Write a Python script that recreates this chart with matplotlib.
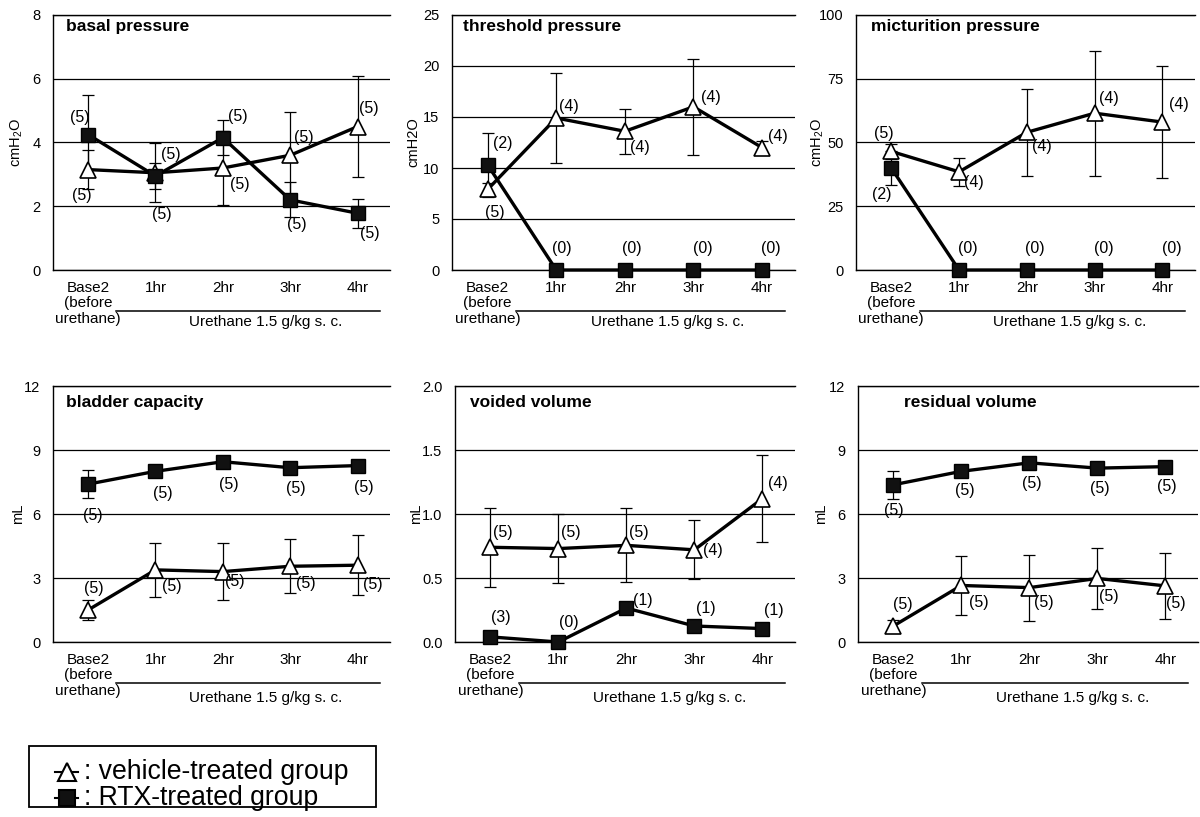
import matplotlib
matplotlib.use("Agg")
import matplotlib.pyplot as plt
from matplotlib.lines import Line2D
from matplotlib.patches import Rectangle

plt.rcParams['font.family'] = ['Liberation Sans', 'DejaVu Sans']
plt.rcParams['mathtext.fontset'] = 'custom'
plt.rcParams['mathtext.rm'] = 'Liberation Sans'
plt.rcParams['mathtext.it'] = 'Liberation Sans:italic'
plt.rcParams['mathtext.bf'] = 'Liberation Sans:bold'

# ---------------- data ----------------
categories = ["Base2\n(before\nurethane)", "1hr", "2hr", "3hr", "4hr"]
treatment_label = "Urethane 1.5 g/kg s. c."
legend_labels = [": vehicle-treated group", ": RTX-treated group"]

# basal pressure (cmH2O)
basal_veh = [3.15, 3.05, 3.2, 3.6, 4.5]
basal_veh_err = [0.6, 0.92, 1.15, 1.35, 1.58]
basal_rtx = [4.25, 2.95, 4.15, 2.2, 1.78]
basal_rtx_err = [1.25, 0.4, 0.55, 0.55, 0.46]
basal_veh_n = ["(5)", "(5)", "(5)", "(5)", "(5)"]
basal_rtx_n = ["(5)", "(5)", "(5)", "(5)", "(5)"]

# threshold pressure (cmH2O)
thresh_veh = [7.9, 14.9, 13.6, 16.0, 12.0]
thresh_veh_err = [0.6, 4.4, 2.2, 4.7, 0.65]
thresh_rtx = [10.3, 0, 0, 0, 0]
thresh_rtx_err = [3.1, 0, 0, 0, 0]
thresh_veh_n = ["(5)", "(4)", "(4)", "(4)", "(4)"]
thresh_rtx_n = ["(2)", "(0)", "(0)", "(0)", "(0)"]

# micturition pressure (cmH2O)
mict_veh = [46.5, 38.5, 54.0, 61.5, 58.0]
mict_veh_err = [3.0, 5.5, 17.0, 24.5, 22.0]
mict_rtx = [40.0, 0, 0, 0, 0]
mict_rtx_err = [6.5, 0, 0, 0, 0]
mict_veh_n = ["(5)", "(4)", "(4)", "(4)", "(4)"]
mict_rtx_n = ["(2)", "(0)", "(0)", "(0)", "(0)"]

# bladder capacity (mL)
cap_veh = [1.5, 3.38, 3.3, 3.55, 3.6]
cap_veh_err = [0.45, 1.25, 1.33, 1.27, 1.4]
cap_rtx = [7.4, 8.0, 8.45, 8.17, 8.27]
cap_rtx_err = [0.65, 0.2, 0.2, 0.2, 0.2]
cap_veh_n = ["(5)", "(5)", "(5)", "(5)", "(5)"]
cap_rtx_n = ["(5)", "(5)", "(5)", "(5)", "(5)"]

# voided volume (mL)
void_veh = [0.74, 0.73, 0.755, 0.72, 1.12]
void_veh_err = [0.31, 0.27, 0.29, 0.23, 0.34]
void_rtx = [0.04, 0.0, 0.265, 0.125, 0.105]
void_rtx_err = [0.03, 0.0, 0.03, 0.03, 0.03]
void_veh_n = ["(5)", "(5)", "(5)", "(4)", "(4)"]
void_rtx_n = ["(3)", "(0)", "(1)", "(1)", "(1)"]

# residual volume (mL)
res_veh = [0.75, 2.65, 2.55, 2.98, 2.63]
res_veh_err = [0.3, 1.38, 1.55, 1.42, 1.56]
res_rtx = [7.37, 8.0, 8.4, 8.15, 8.22]
res_rtx_err = [0.65, 0.2, 0.2, 0.2, 0.2]
res_veh_n = ["(5)", "(5)", "(5)", "(5)", "(5)"]
res_rtx_n = ["(5)", "(5)", "(5)", "(5)", "(5)"]

# ---------------- layout (pixel offsets of n-labels) ----------------
W, H = 1200, 817

panels = [
    dict(title="basal pressure", veh=basal_veh, veh_err=basal_veh_err, rtx=basal_rtx, rtx_err=basal_rtx_err,
         veh_n=basal_veh_n, rtx_n=basal_rtx_n, yticks=[0, 2, 4, 6, 8], ylabel="cmH$_2$O",
         rect=(53, 390, 15, 270), title_x=0.04, title_y=0.953, ylab_x=-0.083,
         veh_off=[(-6, -26), (15, 18), (17, -17), (14, 18), (11, 18)],
         rtx_off=[(-8, 17), (6, -39), (15, 21), (7, -25), (12, -20)]),
    dict(title="threshold pressure", veh=thresh_veh, veh_err=thresh_veh_err, rtx=thresh_rtx, rtx_err=thresh_rtx_err,
         veh_n=thresh_veh_n, rtx_n=thresh_rtx_n, yticks=[0, 5, 10, 15, 20, 25], ylabel="cmH2O",
         rect=(452, 795, 15, 270), title_x=0.032, title_y=0.953, ylab_x=-0.093,
         veh_off=[(7, -23), (13, 12), (15, -16), (17, 9), (16, 11)],
         rtx_off=[(15, 21), (6, 21), (7, 21), (9, 21), (9, 21)]),
    dict(title="micturition pressure", veh=mict_veh, veh_err=mict_veh_err, rtx=mict_rtx, rtx_err=mict_rtx_err,
         veh_n=mict_veh_n, rtx_n=mict_rtx_n, yticks=[0, 25, 50, 75, 100], ylabel="cmH$_2$O",
         rect=(856, 1195, 15, 270), title_x=0.044, title_y=0.953, ylab_x=-0.088,
         veh_off=[(-7, 18), (15, -11), (15, -14), (14, 15), (16, 18)],
         rtx_off=[(-10, -26), (9, 21), (8, 21), (9, 21), (9, 21)]),
    dict(title="bladder capacity", veh=cap_veh, veh_err=cap_veh_err, rtx=cap_rtx, rtx_err=cap_rtx_err,
         veh_n=cap_veh_n, rtx_n=cap_rtx_n, yticks=[0, 3, 6, 9, 12], ylabel="mL",
         rect=(53, 390, 386, 642), title_x=0.04, title_y=0.934, ylab_x=-0.083,
         veh_off=[(6, 22), (16, -17), (12, -10), (16, -17), (15, -19)],
         rtx_off=[(5, -31), (7, -22), (6, -23), (6, -21), (6, -22)]),
    dict(title="voided volume", veh=void_veh, veh_err=void_veh_err, rtx=void_rtx, rtx_err=void_rtx_err,
         veh_n=void_veh_n, rtx_n=void_rtx_n, yticks=[0.0, 0.5, 1.0, 1.5, 2.0], ylabel="mL",
         rect=(455, 795, 386, 642), title_x=0.044, title_y=0.934, ylab_x=-0.094,
         veh_off=[(12, 15), (12, 16), (12, 13), (19, -1), (16, 15)],
         rtx_off=[(10, 19), (10, 20), (16, 8), (11, 17), (11, 18)]),
    dict(title="residual volume", veh=res_veh, veh_err=res_veh_err, rtx=res_rtx, rtx_err=res_rtx_err,
         veh_n=res_veh_n, rtx_n=res_rtx_n, yticks=[0, 3, 6, 9, 12], ylabel="mL",
         rect=(858, 1198, 386, 642), title_x=0.135, title_y=0.934, ylab_x=-0.088,
         veh_off=[(9, 22), (17, -17), (14, -15), (11, -18), (10, -18)],
         rtx_off=[(0, -26), (3, -19), (2, -21), (2, -20), (1, -20)]),
]

fig = plt.figure(figsize=(W / 100, H / 100), dpi=100)
fig.patch.set_facecolor("white")

x = list(range(len(categories)))

for i, p in enumerate(panels):
    l, r, t, b = p["rect"]
    ax = fig.add_axes([l / W, 1 - b / H, (r - l) / W, (b - t) / H])
    ax.set_xlim(-0.52, 4.48)
    ax.set_ylim(p["yticks"][0], p["yticks"][-1])
    ax.set_yticks(p["yticks"])
    if isinstance(p["yticks"][1], float):
        ax.set_yticklabels([f"{v:.1f}" for v in p["yticks"]])
    ax.set_xticks(x)
    ax.set_xticklabels(categories, fontsize=11, linespacing=1.12)
    ax.tick_params(axis="x", length=0, pad=8)
    ax.tick_params(axis="y", length=0, pad=9, labelsize=10.5)
    for s in ["left", "top", "bottom"]:
        ax.spines[s].set_linewidth(1.0)
        ax.spines[s].set_color("black")
    ax.spines["right"].set_visible(False)
    ax.yaxis.grid(True, color="black", linewidth=0.9)
    ax.set_axisbelow(True)

    ax.set_ylabel(p["ylabel"], fontsize=10.5)
    ax.yaxis.set_label_coords(p["ylab_x"], 0.5)

    ax.text(p["title_x"], p["title_y"], p["title"], transform=ax.transAxes,
            fontsize=12.5, fontweight="bold", ha="left", va="center")

    # error bars
    ax.errorbar(x, p["veh"], yerr=p["veh_err"], fmt="none", ecolor="black",
                elinewidth=0.9, capsize=4, capthick=0.9, zorder=2, clip_on=False)
    ax.errorbar(x, p["rtx"], yerr=p["rtx_err"], fmt="none", ecolor="black",
                elinewidth=0.9, capsize=4, capthick=0.9, zorder=2, clip_on=False)
    # lines
    ax.plot(x, p["veh"], "-", color="black", lw=2.4, marker="^", ms=12,
            mfc="white", mec="black", mew=1.2, zorder=3, clip_on=False)
    ax.plot(x, p["rtx"], "-", color="black", lw=2.4, marker="s", ms=10,
            mfc="#111111", mec="black", mew=1.0, zorder=4, clip_on=False)

    # n labels
    for xi, v, s, off in zip(x, p["veh"], p["veh_n"], p["veh_off"]):
        ax.annotate(s, xy=(xi, v), xytext=off, textcoords="offset pixels",
                    ha="center", va="center", fontsize=11.5, zorder=5, annotation_clip=False)
    for xi, v, s, off in zip(x, p["rtx"], p["rtx_n"], p["rtx_off"]):
        ax.annotate(s, xy=(xi, v), xytext=off, textcoords="offset pixels",
                    ha="center", va="center", fontsize=11.5, zorder=5, annotation_clip=False)

    # urethane bracket line and label
    trans = ax.get_xaxis_transform()
    ax.plot([0.42, 4.33], [-0.161, -0.161], color="black", lw=1.1,
            transform=trans, clip_on=False)
    ty = -0.205 if i < 3 else -0.219
    ax.text(2.63, ty, treatment_label, transform=trans, ha="center", va="center",
            fontsize=11)

# ---------------- legend (drawn in figure pixels) ----------------
def fx(px):
    return px / W

def fy(py):
    return 1 - py / H

fig.patches.append(Rectangle((fx(29), fy(807)), fx(376) - fx(29), fy(746) - fy(807),
                             transform=fig.transFigure, fill=False, edgecolor="black",
                             linewidth=1.3))
leg_handles = [
    dict(marker="^", ms=13, mfc="white", y=772),
    dict(marker="s", ms=12, mfc="#111111", y=798),
]
for h, lab in zip(leg_handles, legend_labels):
    fig.add_artist(Line2D([fx(55), fx(78)], [fy(h["y"]), fy(h["y"])], color="black", lw=1.5,
                          transform=fig.transFigure))
    fig.add_artist(Line2D([fx(66.5)], [fy(h["y"])], marker=h["marker"], ms=h["ms"],
                          mfc=h["mfc"], mec="black", mew=1.5, linestyle="none",
                          transform=fig.transFigure))
    fig.text(fx(84), fy(h["y"]), lab, fontsize=19.2, ha="left", va="center")

fig.savefig("out.png", dpi=100, facecolor="white")
